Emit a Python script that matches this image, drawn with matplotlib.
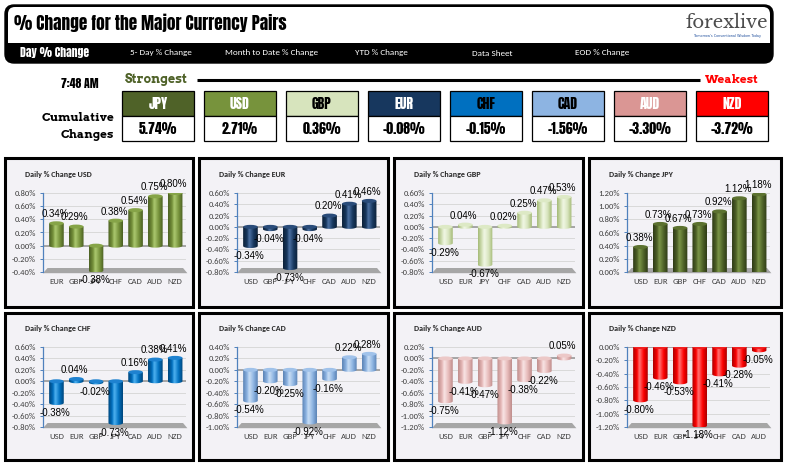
import numpy as np
import matplotlib
matplotlib.use('Agg')
import matplotlib.pyplot as plt
from matplotlib.patches import Rectangle, FancyBboxPatch, Ellipse, PathPatch, Polygon
from matplotlib.path import Path
from matplotlib.colors import LinearSegmentedColormap
from matplotlib.ticker import FuncFormatter, MultipleLocator

# ---------------- data ----------------
currencies = ['JPY', 'USD', 'GBP', 'EUR', 'CHF', 'CAD', 'AUD', 'NZD']
cumulative = [5.74, 2.71, 0.36, -0.08, -0.15, -1.56, -3.30, -3.72]

nav_items = ['5- Day % Change', 'Month to Date % Change', 'YTD % Change', 'Data Sheet', 'EOD % Change']
time_label = '7:48 AM'

usd_cats = ['EUR', 'GBP', 'JPY', 'CHF', 'CAD', 'AUD', 'NZD']
usd_vals = [0.34, 0.29, -0.38, 0.38, 0.54, 0.75, 0.80]
eur_cats = ['USD', 'GBP', 'JPY', 'CHF', 'CAD', 'AUD', 'NZD']
eur_vals = [-0.34, -0.04, -0.73, -0.04, 0.20, 0.41, 0.46]
gbp_cats = ['USD', 'EUR', 'JPY', 'CHF', 'CAD', 'AUD', 'NZD']
gbp_vals = [-0.29, 0.04, -0.67, 0.02, 0.25, 0.47, 0.53]
jpy_cats = ['USD', 'EUR', 'GBP', 'CHF', 'CAD', 'AUD', 'NZD']
jpy_vals = [0.38, 0.73, 0.67, 0.73, 0.92, 1.12, 1.18]
chf_cats = ['USD', 'EUR', 'GBP', 'JPY', 'CAD', 'AUD', 'NZD']
chf_vals = [-0.38, 0.04, -0.02, -0.73, 0.16, 0.38, 0.41]
cad_cats = ['USD', 'EUR', 'GBP', 'JPY', 'CHF', 'AUD', 'NZD']
cad_vals = [-0.54, -0.20, -0.25, -0.92, -0.16, 0.22, 0.28]
aud_cats = ['USD', 'EUR', 'GBP', 'JPY', 'CHF', 'CAD', 'NZD']
aud_vals = [-0.75, -0.41, -0.47, -1.12, -0.38, -0.22, 0.05]
nzd_cats = ['USD', 'EUR', 'GBP', 'JPY', 'CHF', 'CAD', 'AUD']
nzd_vals = [-0.80, -0.46, -0.53, -1.18, -0.41, -0.28, -0.05]

# ---------------- styles ----------------
box_colors = {'JPY': '#4F6228', 'USD': '#77933C', 'GBP': '#D7E4BD', 'EUR': '#17375E',
              'CHF': '#0070C0', 'CAD': '#8DB4E2', 'AUD': '#DA9694', 'NZD': '#FF0000'}
box_text = {'JPY': 'white', 'USD': 'white', 'GBP': 'black', 'EUR': 'white',
            'CHF': 'black', 'CAD': 'black', 'AUD': 'white', 'NZD': 'white'}
bar_styles = {
    'USD': ('#4A5E22', '#77933C', '#AECB72', '#86A448'),
    'EUR': ('#0D2138', '#17375E', '#4F74A6', '#2A4C7A'),
    'GBP': ('#A3B975', '#D7E4BD', '#F2F8E6', '#DDE9C5'),
    'JPY': ('#2E3A16', '#4F6228', '#7D9849', '#5C7230'),
    'CHF': ('#00457A', '#0070C0', '#52B4F2', '#1E82D0'),
    'CAD': ('#5A82B4', '#8DB4E2', '#CBDFF5', '#A0C2EA'),
    'AUD': ('#BE8C8B', '#E6B9B8', '#F9E6E6', '#ECC8C7'),
    'NZD': ('#AA0000', '#FF0000', '#FF7A7A', '#F22020'),
}

IMPACT = ['Anton', 'DejaVu Sans']
SLAB = ['Arvo', 'DejaVu Serif']
CALIBRI = ['Carlito', 'Lato', 'DejaVu Sans']
ARIAL = ['Liberation Sans', 'DejaVu Sans']

W, H = 787, 465
fig = plt.figure(figsize=(W / 100, H / 100), dpi=100)
fig.patch.set_facecolor('white')
bg = fig.add_axes([0, 0, 1, 1])
bg.set_xlim(0, W)
bg.set_ylim(H, 0)
bg.axis('off')

# ---------------- header ----------------
bg.add_patch(FancyBboxPatch((5, 5), 768, 58, boxstyle='round,pad=0,rounding_size=9',
                            fc='black', ec='black', lw=1))
bg.add_patch(FancyBboxPatch((8, 7), 762, 36, boxstyle='round,pad=0,rounding_size=7',
                            fc='white', ec='none'))
bg.add_patch(Rectangle((8, 30), 762, 13, fc='white', ec='none'))
bg.text(14, 23, '% Change for the Major Currency Pairs', fontsize=12.4, family=IMPACT,
        va='center', ha='left', color='black')
bg.text(727, 23, 'forexlive', fontsize=13, family=['Libre Baskerville', 'DejaVu Serif'],
        color='#4D4D4D', ha='center', va='center')
bg.text(727, 36, "Tomorrow's Conventional Wisdom Today", fontsize=2.4, color='#1F4E9C',
        ha='center', va='center')
bg.text(20, 53, 'Day % Change', fontsize=8.4, family=IMPACT, color='white', va='center')
nav_x = [130, 225, 355, 472, 575]
for nx, item in zip(nav_x, nav_items):
    bg.text(nx, 53, item, fontsize=6.6, family=CALIBRI, color='white', va='center')

# ---------------- strongest / weakest row ----------------
bg.text(80, 83, time_label, fontsize=8.5, family=IMPACT, ha='center', va='center')
bg.text(125, 80, 'Strongest', fontsize=9, fontweight='bold', family=SLAB, color='#4F6228',
        va='center', ha='left')
bg.plot([197, 700], [80.5, 80.5], color='black', lw=2.2, solid_capstyle='butt')
bg.text(759, 80, 'Weakest', fontsize=8.5, fontweight='bold', family=SLAB, color='#FF0000',
        va='center', ha='right')
bg.text(114, 118, 'Cumulative', fontsize=8.5, fontweight='bold', family=SLAB, ha='right', va='center')
bg.text(114, 135, 'Changes', fontsize=8.5, fontweight='bold', family=SLAB, ha='right', va='center')

for i, (cur, val) in enumerate(zip(currencies, cumulative)):
    x0 = 122 + 82 * i
    bg.add_patch(Rectangle((x0, 91), 72, 25, fc=box_colors[cur], ec='black', lw=0.9))
    bg.add_patch(Rectangle((x0, 116), 72, 25, fc='white', ec='black', lw=0.9))
    bg.text(x0 + 36, 103.5, cur, fontsize=10, family=IMPACT,
            color=box_text[cur], ha='center', va='center')
    bg.text(x0 + 36, 129, f'{val:.2f}%', fontsize=10, family=IMPACT,
            color='black', ha='center', va='center')

# ---------------- panels ----------------
panels = [
    ('USD', usd_cats, usd_vals, (-0.4, 0.8)),
    ('EUR', eur_cats, eur_vals, (-0.8, 0.6)),
    ('GBP', gbp_cats, gbp_vals, (-0.8, 0.6)),
    ('JPY', jpy_cats, jpy_vals, (0.0, 1.2)),
    ('CHF', chf_cats, chf_vals, (-0.8, 0.6)),
    ('CAD', cad_cats, cad_vals, (-1.0, 0.4)),
    ('AUD', aud_cats, aud_vals, (-1.2, 0.2)),
    ('NZD', nzd_cats, nzd_vals, (-1.2, 0.0)),
]
col_x = [5, 199, 394, 589]
col_w = [188, 189, 189, 192]
row_y = [158, 313]
row_h = [149, 147]
axis_top = [193, 347]
axis_bot = [272, 427]
title_y = [174, 328]
PANEL_BG = '#F3F2F6'


def pct_fmt(v, pos):
    return f'{v:.2f}%'


def cylinder(ax, x, v, w, style, ell_h):
    dark, mid, light, cap = style
    cmap = LinearSegmentedColormap.from_list('c', [(0, dark), (0.28, mid), (0.42, light),
                                                   (0.72, mid), (1.0, dark)])
    y0, y1 = min(0.0, v), max(0.0, v)
    th = np.linspace(np.pi, 2 * np.pi, 40)
    bx = x + (w / 2) * np.cos(th)
    by = y0 + (ell_h / 2) * np.sin(th)
    verts = list(zip(bx, by)) + [(x + w / 2, y1), (x - w / 2, y1), (bx[0], by[0])]
    codes = [Path.MOVETO] + [Path.LINETO] * (len(verts) - 2) + [Path.CLOSEPOLY]
    patch = PathPatch(Path(verts, codes), fc='none', ec='none')
    ax.add_patch(patch)
    grad = np.linspace(0, 1, 64).reshape(1, -1)
    im = ax.imshow(grad, extent=[x - w / 2, x + w / 2, y0 - ell_h, y1 + ell_h], cmap=cmap,
                   aspect='auto', interpolation='bicubic', zorder=3, origin='lower')
    im.set_clip_path(patch)
    ax.add_patch(Ellipse((x, y1), w, ell_h, fc=cap, ec='none', zorder=4))


for idx, (name, cats, vals, (ymin, ymax)) in enumerate(panels):
    r, c = divmod(idx, 4)
    px, py, pw, ph = col_x[c], row_y[r], col_w[c], row_h[r]
    bg.add_patch(Rectangle((px, py), pw, ph, fc=PANEL_BG, ec='black', lw=2.2))
    bg.text(px + 20, title_y[r], f'Daily % Change {name}', fontsize=5.8, fontweight='bold',
            family=CALIBRI, color='#262626', va='center', ha='left')

    al, ar = px + 38, px + 181
    at, ab = axis_top[r], axis_bot[r]
    ax = fig.add_axes([al / W, 1 - ab / H, (ar - al) / W, (ab - at) / H])
    ax.patch.set_alpha(0)
    ah_px = ab - at
    ell_h = 4.0 * (ymax - ymin) / ah_px
    xs = np.arange(len(cats))

    for t in np.arange(ymin, ymax + 1e-9, 0.2):
        ax.axhline(t, color='#D9D9D9', lw=0.7, zorder=1)
    fl = 4.0 * (ymax - ymin) / ah_px
    ax.add_patch(Polygon([(-0.68, ymin - 0.3 * fl), (6.62, ymin - 0.3 * fl), (6.4, ymin + fl),
                          (-0.45, ymin + fl)], closed=True, fc='#A6A6A6', ec='none',
                         zorder=2, clip_on=False))
    ax.axhline(0, color='#A0A0A0', lw=1.3, zorder=2)

    for x, v in zip(xs, vals):
        cylinder(ax, x, v, 0.74, bar_styles[name], ell_h)
        if v >= 0:
            ax.annotate(f'{v:.2f}%', (x, v + ell_h / 2), xytext=(-1, 1.5), textcoords='offset points',
                        ha='center', va='bottom', fontsize=7, family=ARIAL,
                        color='black', zorder=6, annotation_clip=False)
        else:
            ax.annotate(f'{v:.2f}%', (x, v - ell_h / 2), xytext=(-1, -2), textcoords='offset points',
                        ha='center', va='top', fontsize=7, family=ARIAL,
                        color='black', zorder=6, annotation_clip=False)

    ax.set_xlim(-0.68, 6.55)
    ax.set_ylim(ymin, ymax)
    ax.yaxis.set_major_locator(MultipleLocator(0.2))
    ax.yaxis.set_major_formatter(FuncFormatter(pct_fmt))
    ax.set_xticks(xs)
    ax.set_xticklabels(cats)
    for s in ['top', 'right', 'bottom']:
        ax.spines[s].set_visible(False)
    ax.spines['left'].set_color('#4F81BD')
    ax.spines['left'].set_linewidth(0.9)
    ax.tick_params(axis='y', length=2.5, width=0.7, color='#4F81BD', pad=2.5,
                   labelsize=6.2, labelcolor='#404040')
    ax.tick_params(axis='x', length=0, pad=4.5, labelsize=6.2, labelcolor='#404040')
    for lab in ax.get_xticklabels() + ax.get_yticklabels():
        lab.set_family(CALIBRI)

fig.savefig('out.png', dpi=100, facecolor='white')
